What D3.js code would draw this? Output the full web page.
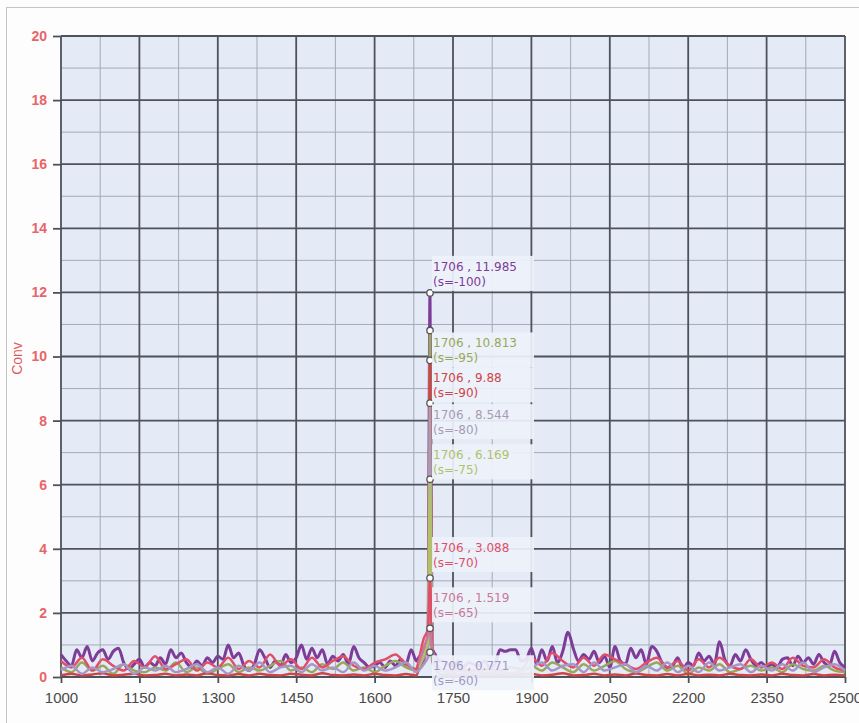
<!DOCTYPE html>
<html>
<head>
<meta charset="utf-8">
<script src="https://cdn.jsdelivr.net/npm/d3@7"></script>
<style>
  body { margin: 0; background: #fdfdfd; }
  svg { display: block; }
</style>
</head>
<body>
<div id="chart"></div>
<script>
// values
var xTicks = [1000, 1150, 1300, 1450, 1600, 1750, 1900, 2050, 2200, 2350, 2500];
var yTicks = [0, 2, 4, 6, 8, 10, 12, 14, 16, 18, 20];
var peakX = 1706;

var seriesNames = ["s=-100", "s=-95", "s=-90", "s=-80", "s=-75", "s=-70", "s=-65", "s=-60"];
var peakValues = [11.985, 10.813, 9.88, 8.544, 6.169, 3.088, 1.519, 0.771];
var seriesColors = ["#7d3c98", "#98a85a", "#cf4446", "#a79bb6", "#b3bf6a", "#e04f6a", "#c8789a", "#a497c8"];

// small base bumps either side of the spike, one row per series
var spikeX = [1684, 1694, 1702, 1706, 1710, 1716, 1724];
var spikeBase = [
  [0.6, 0.8, 1.0, 11.985, 0.9, 0.7, 0.5],
  [0.4, 0.9, 0.7, 10.813, 0.6, 0.4, 0.3],
  [0.2, 0.5, 1.2, 9.88, 0.8, 0.3, 0.1],
  [0.3, 0.6, 0.8, 8.544, 0.5, 0.3, 0.2],
  [0.3, 0.7, 1.1, 6.169, 0.7, 0.4, 0.2],
  [0.5, 1.2, 1.5, 3.088, 1.0, 0.5, 0.2],
  [0.4, 0.9, 1.3, 1.519, 0.9, 0.4, 0.2],
  [0.2, 0.4, 0.6, 0.771, 0.8, 0.5, 0.3]
];

// baseline noise of the top (purple) series, every 10 from 1000 to 2500
var noisePurple = [
  0.7, 0.5, 0.35, 0.85, 0.6, 0.95, 0.5, 0.75, 0.85, 0.55,
  0.8, 0.9, 0.45, 0.25, 0.4, 0.55, 0.3, 0.45, 0.35, 0.6,
  0.4, 0.85, 0.6, 0.75, 0.45, 0.3, 0.5, 0.35, 0.6, 0.45,
  0.65, 0.55, 1.0, 0.6, 0.75, 0.35, 0.2, 0.4, 0.85, 0.6,
  0.3, 0.5, 0.35, 0.7, 0.45, 0.6, 1.0, 0.55, 0.9, 0.6,
  0.85, 0.4, 0.65, 0.5, 0.7, 0.4, 0.95, 0.6, 0.45, 0.3,
  0.35, 0.45, 0.3, 0.5, 0.35, 0.55, 0.4, 0.85, 0.5, 0.6,
  0.45, 0.6, 0.8, 0.5, 0.4, 0.35, 0.5, 0.3, 0.45, 0.4,
  0.35, 0.5, 0.3, 0.4, 0.85, 0.8, 0.85, 0.85, 0.5, 0.55,
  0.9, 0.4, 0.85, 0.5, 0.95, 0.45, 0.8, 1.4, 0.9, 0.5,
  0.7, 0.55, 0.8, 0.45, 0.65, 0.3, 0.95, 0.5, 0.4, 0.9,
  0.6, 0.85, 0.4, 0.95, 0.8, 0.45, 0.3, 0.35, 0.6, 0.25,
  0.45, 0.35, 0.75, 0.5, 0.65, 0.4, 1.1, 0.55, 0.35, 0.7,
  0.5, 0.85, 0.55, 0.35, 0.45, 0.3, 0.4, 0.3, 0.55, 0.6,
  0.35, 0.65, 0.45, 0.6, 0.4, 0.7, 0.45, 0.35, 0.8, 0.45,
  0.3
];

// lower noise of other series, every 20 from 1000 to 2500
var noiseOlive = [
  0.3, 0.15, 0.45, 0.2, 0.35, 0.1, 0.4, 0.2, 0.15, 0.3,
  0.2, 0.45, 0.15, 0.3, 0.1, 0.25, 0.4, 0.15, 0.3, 0.2,
  0.35, 0.5, 0.2, 0.3, 0.15, 0.4, 0.25, 0.45, 0.2, 0.3,
  0.15, 0.35, 0.5, 0.3, 0.2, 0.1, 0.15, 0.1, 0.2, 0.15,
  0.1, 0.15, 0.2, 0.1, 0.15, 0.35, 0.2, 0.45, 0.3, 0.15,
  0.4, 0.2, 0.35, 0.5, 0.25, 0.15, 0.3, 0.45, 0.2, 0.35,
  0.1, 0.3, 0.2, 0.4, 0.15, 0.25, 0.35, 0.2, 0.3, 0.15,
  0.4, 0.25, 0.2, 0.35, 0.2, 0.15
];
var noiseRed = [
  0.05, 0.1, 0.05, 0.08, 0.12, 0.05, 0.07, 0.1, 0.05, 0.06,
  0.1, 0.05, 0.08, 0.05, 0.12, 0.06, 0.05, 0.09, 0.05, 0.1,
  0.06, 0.05, 0.1, 0.07, 0.05, 0.12, 0.06, 0.05, 0.08, 0.05,
  0.1, 0.06, 0.05, 0.09, 0.05, 0.05, 0.06, 0.05, 0.05, 0.05,
  0.05, 0.05, 0.05, 0.05, 0.08, 0.1, 0.05, 0.07, 0.12, 0.05,
  0.06, 0.1, 0.05, 0.08, 0.05, 0.11, 0.06, 0.05, 0.09, 0.05,
  0.1, 0.05, 0.07, 0.05, 0.1, 0.06, 0.05, 0.08, 0.05, 0.1,
  0.06, 0.05, 0.09, 0.05, 0.07, 0.05
];
var noisePink = [
  0.5, 0.3, 0.6, 0.2, 0.55, 0.35, 0.2, 0.5, 0.3, 0.65,
  0.25, 0.4, 0.55, 0.2, 0.45, 0.3, 0.6, 0.25, 0.5, 0.3,
  0.7, 0.35, 0.55, 0.25, 0.6, 0.3, 0.5, 0.65, 0.35, 0.25,
  0.45, 0.55, 0.7, 0.4, 0.25, 0.2, 0.25, 0.2, 0.25, 0.2,
  0.2, 0.25, 0.2, 0.3, 0.25, 0.6, 0.35, 0.75, 0.5, 0.3,
  0.6, 0.35, 0.7, 0.55, 0.4, 0.25, 0.45, 0.6, 0.3, 0.5,
  0.2, 0.55, 0.3, 0.6, 0.35, 0.25, 0.55, 0.3, 0.45, 0.25,
  0.6, 0.35, 0.3, 0.55, 0.3, 0.2
];
var noiseLavender = [
  0.2, 0.35, 0.1, 0.3, 0.15, 0.25, 0.4, 0.1, 0.3, 0.2,
  0.35, 0.15, 0.25, 0.4, 0.15, 0.3, 0.1, 0.35, 0.2, 0.45,
  0.15, 0.3, 0.35, 0.15, 0.4, 0.2, 0.3, 0.15, 0.45, 0.2,
  0.35, 0.2, 0.3, 0.45, 0.15, 0.1, 0.1, 0.15, 0.1, 0.1,
  0.1, 0.1, 0.15, 0.1, 0.2, 0.3, 0.45, 0.2, 0.35, 0.4,
  0.15, 0.45, 0.2, 0.3, 0.4, 0.15, 0.35, 0.2, 0.45, 0.15,
  0.35, 0.15, 0.45, 0.2, 0.3, 0.4, 0.15, 0.35, 0.2, 0.4,
  0.2, 0.45, 0.15, 0.3, 0.4, 0.2
];

// which noise row goes with which series (null = spike only)
var seriesNoise = [[noisePurple, 10], [noiseOlive, 20], [noiseRed, 20], null, null, [noisePink, 20], null, [noiseLavender, 20]];

// label placement relative to the peak point (layout only)
var labelDy = [-26, 13, 18, 12, -24, -30, -30, 14];

var width = 859, height = 723;
var margin = { top: 36, right: 14, bottom: 46, left: 61 };
var plotW = width - margin.left - margin.right,
    plotH = height - margin.top - margin.bottom;

var x = d3.scaleLinear().domain([1000, 2500]).range([0, plotW]);
var y = d3.scaleLinear().domain([0, 20]).range([plotH, 0]);

var svg = d3.select("#chart").append("svg")
    .attr("width", width)
    .attr("height", height);

// outer frame
svg.append("rect")
    .attr("x", 6.5).attr("y", 7.5)
    .attr("width", 900).attr("height", 800)
    .attr("fill", "#fdfdfd")
    .attr("stroke", "#c4c4c4");

var g = svg.append("g")
    .attr("transform", "translate(" + margin.left + "," + margin.top + ")");

g.append("rect")
    .attr("width", plotW).attr("height", plotH)
    .attr("fill", "#e5ebf6");

// minor grid
g.selectAll(".minorX")
    .data(d3.range(1075, 2500, 150))
    .enter().append("line")
    .attr("x1", function (d) { return x(d); })
    .attr("x2", function (d) { return x(d); })
    .attr("y1", 0).attr("y2", plotH)
    .style("stroke", "#a3aab6").style("stroke-width", 1);

g.selectAll(".minorY")
    .data(d3.range(1, 20, 2))
    .enter().append("line")
    .attr("y1", function (d) { return y(d); })
    .attr("y2", function (d) { return y(d); })
    .attr("x1", 0).attr("x2", plotW)
    .style("stroke", "#a3aab6").style("stroke-width", 1);

// major grid
g.selectAll(".majorX")
    .data(xTicks)
    .enter().append("line")
    .attr("x1", function (d) { return x(d); })
    .attr("x2", function (d) { return x(d); })
    .attr("y1", 0).attr("y2", plotH)
    .style("stroke", "#4d525b").style("stroke-width", 1.8);

g.selectAll(".majorY")
    .data(yTicks)
    .enter().append("line")
    .attr("y1", function (d) { return y(d); })
    .attr("y2", function (d) { return y(d); })
    .attr("x1", 0).attr("x2", plotW)
    .style("stroke", "#4d525b").style("stroke-width", 1.8);

// axes
var yAxis = g.append("g")
    .call(d3.axisLeft(y).tickValues(yTicks).tickSize(8).tickPadding(6));
yAxis.select(".domain").remove();
yAxis.selectAll("line").style("stroke", "#4d525b").style("stroke-width", 1.8);
yAxis.selectAll("text")
    .style("font-family", "Liberation Sans, Arial, sans-serif")
    .style("font-size", "14px")
    .style("font-weight", "bold")
    .style("fill", "#e8646a");

var xAxis = g.append("g")
    .attr("transform", "translate(0," + plotH + ")")
    .call(d3.axisBottom(x).tickValues(xTicks).tickFormat(d3.format("d")).tickSize(6).tickPadding(9));
xAxis.select(".domain").remove();
xAxis.selectAll("line").style("stroke", "#4d525b").style("stroke-width", 1.8);
xAxis.selectAll("text")
    .style("font-family", "Liberation Sans, Arial, sans-serif")
    .style("font-size", "15px")
    .style("fill", "#4a4a4a");

// y axis title
svg.append("text")
    .attr("transform", "translate(22," + (margin.top + plotH / 2 + 2) + ") rotate(-90)")
    .style("text-anchor", "middle")
    .style("font-family", "Liberation Sans, Arial, sans-serif")
    .style("font-size", "14px")
    .style("fill", "#e5555b")
    .text("Conv");

// build each series: noise row plus the spike points
function buildSeries(i) {
    var pts = [];
    var nz = seriesNoise[i];
    if (nz) {
        nz[0].forEach(function (v, k) {
            var xv = 1000 + k * nz[1];
            if (xv < spikeX[0] || xv > spikeX[spikeX.length - 1]) pts.push([xv, v]);
        });
    }
    spikeX.forEach(function (xv, k) { pts.push([xv, spikeBase[i][k]]); });
    pts.sort(function (a, b) { return a[0] - b[0]; });
    return pts;
}

var line = d3.line()
    .x(function (d) { return x(d[0]); })
    .y(function (d) { return y(d[1]); })
    .curve(d3.curveMonotoneX);

var plot = g.append("g");
seriesNames.forEach(function (name, i) {
    plot.append("path")
        .datum(buildSeries(i))
        .attr("d", line)
        .attr("fill", "none")
        .attr("stroke", seriesColors[i])
        .attr("stroke-width", i === 0 ? 3 : 2.5)
        .attr("stroke-linejoin", "round");
});

// peak markers
g.selectAll(".peak")
    .data(peakValues)
    .enter().append("circle")
    .attr("cx", x(peakX))
    .attr("cy", function (d) { return y(d); })
    .attr("r", 3.2)
    .attr("fill", "#ffffff")
    .attr("stroke", "#555555")
    .attr("stroke-width", 1.3);

// labels with light boxes
var labels = g.append("g")
    .style("font-family", "DejaVu Sans, Verdana, sans-serif")
    .style("font-size", "12px");

peakValues.forEach(function (v, i) {
    var ty = y(v) + labelDy[i];
    labels.append("rect")
        .attr("x", x(peakX) + 2)
        .attr("y", ty - 11)
        .attr("width", 102)
        .attr("height", 35)
        .attr("fill", "#eef2fa")
        .attr("opacity", 0.92);
    var t = labels.append("text")
        .attr("x", x(peakX) + 3)
        .attr("y", ty + 4)
        .style("fill", seriesColors[i]);
    t.append("tspan").text(peakX + " , " + v);
    t.append("tspan")
        .attr("x", x(peakX) + 3)
        .attr("dy", 15)
        .text("(" + seriesNames[i] + ")");
});
</script>
</body>
</html>
